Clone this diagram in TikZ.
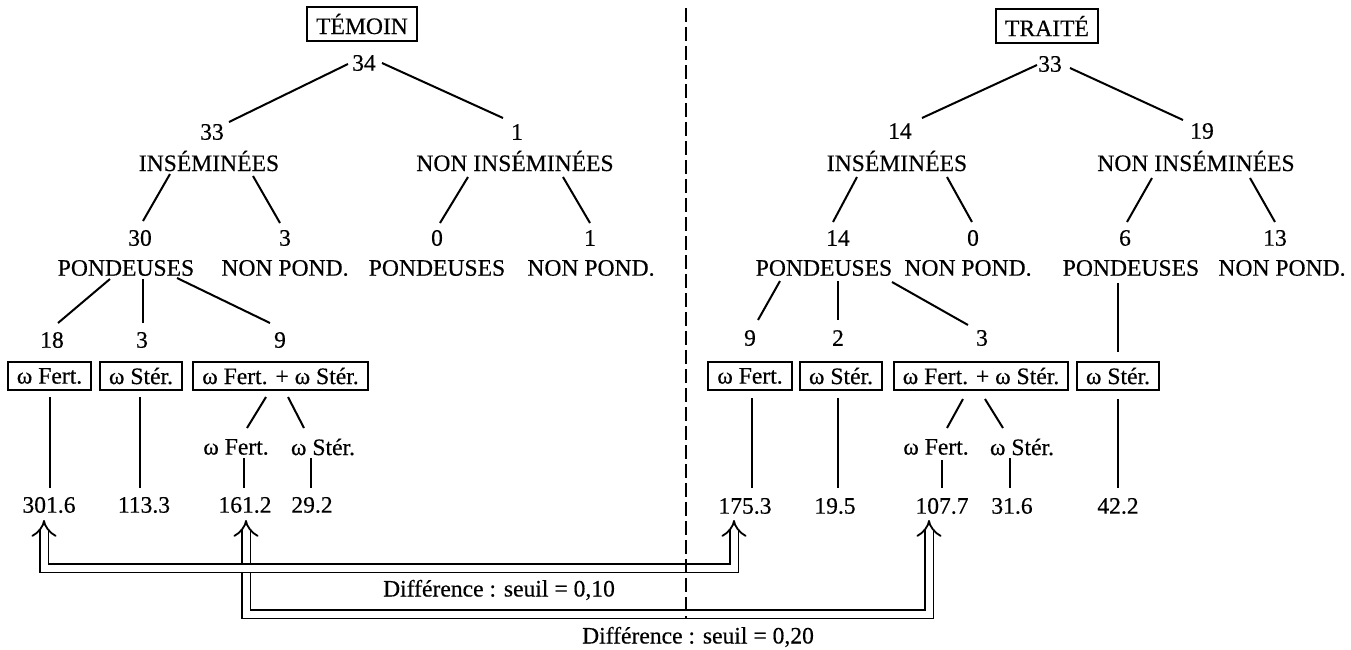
\documentclass[tikz,border=0pt]{standalone}
\usepackage{fontspec}
\setmainfont{Liberation Serif}[FakeBold=0.4]
\usetikzlibrary{calc,arrows.meta}
\begin{document}
\begin{tikzpicture}[x=0.5pt,y=-0.5pt,
  every node/.style={font=\fontsize{11.8}{14}\selectfont, inner sep=0pt},
  bx/.style={draw, line width=1.15pt, inner xsep=4.5pt, minimum height=14pt},
  ttl/.style={draw, line width=1.25pt, inner xsep=4.5pt, minimum height=17pt},
  ln/.style={line width=1pt},
  dbl/.style={double, double distance=3.5pt, line width=0.9pt, line join=miter, {Implies[scale=1.15]}-{Implies[scale=1.15]}},
  sep/.style={line width=0.85pt, dash pattern=on 7pt off 2.5pt},
]
\useasboundingbox (0,0) rectangle (1351,649);

% ---------- TEMOIN ----------
\node[ttl] (temoin) at (362,24) {TÉMOIN};
\node (a34) at (364,63) {34};
\node (a33) at (212,132) {33};
\node (aIns) at (209,161) {INSÉMINÉES};
\node (a1) at (517,132) {1};
\node (aNonIns) at (515,161) {NON INSÉMINÉES};
\node (a30) at (140,238) {30};
\node (a3) at (285,238) {3};
\node (a0) at (437,238) {0};
\node (a1b) at (590,238) {1};
\node (aP1) at (126,268) {PONDEUSES};
\node (aNP1) at (285,268) {NON POND.};
\node (aP2) at (437,268) {PONDEUSES};
\node (aNP2) at (591,268) {NON POND.};
\node (a18) at (52,340) {18};
\node (a3b) at (142,340) {3};
\node (a9) at (280,340) {9};
\node[bx] (bF) at (49.5,376) {ω Fert.};
\node[bx] (bS) at (141,376) {ω Stér.};
\node[bx] (bFS) at (280.5,376) {ω Fert. + ω Stér.};
\node (sF) at (236,447) {ω Fert.};
\node (sS) at (323,447) {ω Stér.};
\node (v1) at (49,505) {301.6};
\node (v2) at (144,505) {113.3};
\node (v3) at (245,505) {161.2};
\node (v4) at (312,505) {29.2};

\draw[ln] ($(a34)+(-16,1)$) -- ($(a33)+(17,-10)$);
\draw[ln] ($(a34)+(18,0)$) -- ($(a1)+(-14,-14)$);
\draw[ln] ($(aIns)+(-39,13)$) -- ($(a30)+(3,-17)$);
\draw[ln] ($(aIns)+(44,15)$) -- ($(a3)+(-5,-15)$);
\draw[ln] ($(aNonIns)+(-47,16)$) -- ($(a0)+(3,-15)$);
\draw[ln] ($(aNonIns)+(48,16)$) -- ($(a1b)+(0,-15)$);
\draw[ln] ($(aP1)+(-16,11)$) -- ($(a18)+(6,-17)$);
\draw[ln] ($(aP1)+(17,11)$) -- ($(a3b)+(1,-17)$);
\draw[ln] ($(aP1)+(51,10)$) -- ($(a9)+(-10,-17)$);
\draw[ln] ($(bF)+(0.5,21)$) -- ($(v1)+(1,-17)$);
\draw[ln] ($(bS)+(-1,21)$) -- ($(v2)+(-4,-17)$);
\draw[ln] ($(bFS)+(-14.5,21)$) -- ($(sF)+(11,-19)$);
\draw[ln] ($(bFS)+(7.5,21)$) -- ($(sS)+(-19,-19)$);
\draw[ln] ($(sF)+(8,11)$) -- ($(v3)+(-1,-17)$);
\draw[ln] ($(sS)+(-12,11)$) -- ($(v4)+(-1,-17)$);

% ---------- TRAITE ----------
\node[ttl] (traite) at (1047,26) {TRAITÉ};
\node (b33) at (1050,64) {33};
\node (b14) at (900,131) {14};
\node (bIns) at (897,161) {INSÉMINÉES};
\node (b19) at (1202,131) {19};
\node (bNonIns) at (1196,161) {NON INSÉMINÉES};
\node (b14b) at (838,238) {14};
\node (b0) at (973,238) {0};
\node (b6) at (1125,238) {6};
\node (b13) at (1275,238) {13};
\node (bP1) at (824,268) {PONDEUSES};
\node (bNP1) at (968,268) {NON POND.};
\node (bP2) at (1131,268) {PONDEUSES};
\node (bNP2) at (1282,268) {NON POND.};
\node (b9) at (750,338) {9};
\node (b2) at (838,338) {2};
\node (b3) at (982,338) {3};
\node[bx] (cF) at (750,376) {ω Fert.};
\node[bx] (cS) at (841,376) {ω Stér.};
\node[bx] (cFS) at (981,376) {ω Fert. + ω Stér.};
\node[bx] (cS2) at (1118,376) {ω Stér.};
\node (tF) at (936,447) {ω Fert.};
\node (tS) at (1022,447) {ω Stér.};
\node (w1) at (745,506) {175.3};
\node (w2) at (835,506) {19.5};
\node (w3) at (942,506) {107.7};
\node (w4) at (1012,506) {31.6};
\node (w5) at (1118,506) {42.2};

\draw[ln] ($(b33)+(-13,1)$) -- ($(b14)+(22,-13)$);
\draw[ln] ($(b33)+(20,4)$) -- ($(b19)+(-19,-11)$);
\draw[ln] ($(bIns)+(-40,16)$) -- ($(b14b)+(-5,-16)$);
\draw[ln] ($(bIns)+(50,16)$) -- ($(b0)+(-1,-16)$);
\draw[ln] ($(bNonIns)+(-44,17)$) -- ($(b6)+(2,-16)$);
\draw[ln] ($(bNonIns)+(54,17)$) -- ($(b13)+(0,-16)$);
\draw[ln] ($(bP1)+(-44,13)$) -- ($(b9)+(8,-18)$);
\draw[ln] ($(bP1)+(14,13)$) -- ($(b2)+(0,-18)$);
\draw[ln] ($(bP1)+(68,14)$) -- ($(b3)+(-14,-13)$);
\draw[ln] ($(bP2)+(-13,15)$) -- ($(cS2)+(0,-24)$);
\draw[ln] ($(cF)+(2,22)$) -- ($(w1)+(7,-18)$);
\draw[ln] ($(cS)+(-3,22)$) -- ($(w2)+(3,-18)$);
\draw[ln] ($(cFS)+(-18,23)$) -- ($(tF)+(11,-19)$);
\draw[ln] ($(cFS)+(4,23)$) -- ($(tS)+(-19,-19)$);
\draw[ln] ($(tF)+(6,13)$) -- ($(w3)+(0,-18)$);
\draw[ln] ($(tS)+(-12,11)$) -- ($(w4)+(-2,-18)$);
\draw[ln] ($(cS2)+(0,23)$) -- ($(w5)+(0,-18)$);

% ---------- comparisons ----------
\coordinate (p1) at ($(v1)+(-5,15)$);
\coordinate (p2) at ($(w1)+(-11,14)$);
\coordinate (q1) at ($(v3)+(1,15)$);
\coordinate (q2) at ($(w3)+(-13,14)$);
\draw[dbl] (q1) -- ++(0,94) -| (q2);
\draw[dbl] (p1) -- ++(0,48) -| (p2);
\node (d1) at (499,590) {Différence : seuil = 0,10};
\node (d2) at (698,637) {Différence : seuil = 0,20};

% ---------- separator ----------
\coordinate (dtop) at (686,8);
\coordinate (dbot) at (686,618);
\draw[sep] (dtop) -- (dbot);
\end{tikzpicture}
\end{document}
